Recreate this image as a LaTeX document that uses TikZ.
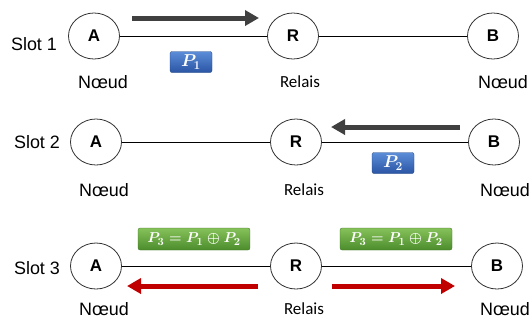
\documentclass[tikz,border=0pt]{standalone}
\usepackage{fontspec}
\setmainfont{Liberation Sans}
\newfontfamily\calib{Carlito}
\usetikzlibrary{arrows.meta,shapes.geometric}
\definecolor{pbT}{HTML}{5C8DD8}
\definecolor{pbB}{HTML}{2A55A4}
\definecolor{pgT}{HTML}{86C25A}
\definecolor{pgB}{HTML}{4C8C2C}
\definecolor{darkarrow}{HTML}{404040}
\definecolor{redarrow}{HTML}{C00000}
\begin{document}
\begin{tikzpicture}[x=1bp,y=-1bp,
  station/.style={draw=black!80, ellipse, minimum width=51bp, minimum height=46bp, inner sep=0pt, line width=0.8bp, fill=white,
    font=\fontsize{17}{17}\selectfont\bfseries},
  link/.style={line width=0.9bp, black},
  slotlbl/.style={font=\fontsize{18}{18}\selectfont, inner sep=0pt},
  noeud/.style={font=\fontsize{18}{18}\selectfont, inner sep=0pt},
  relais/.style={font=\calib\fontsize{17}{17}\selectfont, inner sep=0pt},
  bluepkt/.style={rounded corners=2bp, top color=pbT, bottom color=pbB, draw=pbB!80!black, line width=0.3bp,
    minimum width=42bp, minimum height=21bp, inner sep=0pt, text=white, font=\fontsize{18}{18}\selectfont\boldmath},
  greenpkt/.style={rounded corners=2bp, top color=pgT, bottom color=pgB, draw=pgB!80!black, line width=0.3bp,
    minimum width=112bp, minimum height=22bp, inner sep=0pt, text=white, font=\fontsize{15.5}{15.5}\selectfont\boldmath},
  grayarr/.style={line width=5bp, darkarrow, -{Triangle[length=14bp,width=15bp]}},
  redarr/.style={line width=5bp, redarrow, -{Triangle[length=14bp,width=15bp]}}
]
\useasboundingbox (0,0) rectangle (530,322);

% Slot 1
\node[slotlbl] (s1) at (34,44) {Slot 1};
\node[station] (A1) at (94,36) {A};
\node[station] (R1) at (293,36) {R};
\node[station] (B1) at (493,36) {B};
\draw[link] (A1) -- (R1);
\draw[link] (R1) -- (B1);
\node[noeud] (nA1) at (103,82) {Nœud};
\node[relais] (rl1) at (300,82) {Relais};
\node[noeud] (nB1) at (503,82) {Nœud};
\coordinate (g1s) at (132,18);
\coordinate (g1e) at (259,18);
\draw[grayarr] (g1s) -- (g1e);
\node[bluepkt] (p1) at (191,62) {$P_1$};

% Slot 2
\node[slotlbl] (s2) at (37,142) {Slot 2};
\node[station] (A2) at (96,142) {A};
\node[station] (R2) at (296,142) {R};
\node[station] (B2) at (494,142) {B};
\draw[link] (A2) -- (R2);
\draw[link] (R2) -- (B2);
\node[noeud] (nA2) at (104,190) {Nœud};
\node[relais] (rl2) at (304,190) {Relais};
\node[noeud] (nB2) at (505,190) {Nœud};
\coordinate (g2s) at (460,127);
\coordinate (g2e) at (331,127);
\draw[grayarr] (g2s) -- (g2e);
\node[bluepkt] (p2) at (393,163) {$P_2$};

% Slot 3
\node[slotlbl] (s3) at (37,268) {Slot 3};
\node[station] (A3) at (96,266) {A};
\node[station] (R3) at (296,266) {R};
\node[station] (B3) at (497,266) {B};
\draw[link] (A3) -- (R3);
\draw[link] (R3) -- (B3);
\node[noeud] (nA3) at (104,309) {Nœud};
\node[relais] (rl3) at (304,309) {Relais};
\node[noeud] (nB3) at (505,309) {Nœud};
\node[greenpkt] (p3a) at (194,239) {$P_3 = P_1 \oplus P_2$};
\node[greenpkt] (p3b) at (396,239) {$P_3 = P_1 \oplus P_2$};
\coordinate (r1s) at (258,286);
\coordinate (r1e) at (127,286);
\coordinate (r2s) at (332,286);
\coordinate (r2e) at (455,286);
\draw[redarr] (r1s) -- (r1e);
\draw[redarr] (r2s) -- (r2e);
\end{tikzpicture}
\end{document}
